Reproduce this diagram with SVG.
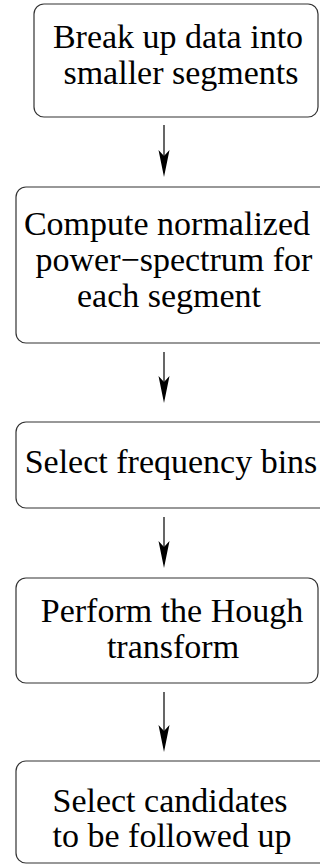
<svg xmlns="http://www.w3.org/2000/svg" width="320" height="865" viewBox="0 0 320 865">
<style>
.box{fill:#fff;stroke:#333;stroke-width:1.2}
.t{font-family:"Liberation Serif","Times New Roman",serif;font-size:34px;fill:#000;text-anchor:middle}
.ln{stroke:#000;stroke-width:1.2;fill:none}
.hd{fill:#000;stroke:none}
</style>
<defs>
<path id="head" d="M0,0 L-5.5,-27 L0,-21 L5.5,-27 Z"/>
</defs>
<rect width="320" height="865" fill="#fff"/>
<g id="n1">
<rect class="box" x="34" y="4" width="284" height="113" rx="10"/>
<text class="t" x="178" y="48">Break up data into</text>
<text class="t" x="181" y="84">smaller segments</text>
</g>
<g id="n2">
<rect class="box" x="16" y="187" width="330" height="156" rx="10"/>
<text class="t" x="167" y="235" font-size="35">Compute normalized</text>
<text class="t" x="174" y="271" font-size="35">power−spectrum for</text>
<text class="t" x="169" y="307" font-size="35">each segment</text>
</g>
<g id="n3">
<rect class="box" x="16" y="422" width="330" height="86" rx="10"/>
<text class="t" x="171" y="473">Select frequency bins</text>
</g>
<g id="n4">
<rect class="box" x="16" y="578" width="302" height="105" rx="10"/>
<text class="t" x="172" y="622">Perform the Hough</text>
<text class="t" x="173" y="658">transform</text>
</g>
<g id="n5">
<rect class="box" x="16" y="761" width="330" height="102" rx="10"/>
<text class="t" x="170" y="812">Select candidates</text>
<text class="t" x="172" y="847">to be followed up</text>
</g>
<g id="connectors">
<line class="ln" x1="164" y1="125" x2="164" y2="160"/>
<use href="#head" class="hd" x="164" y="177"/>
<line class="ln" x1="164" y1="352" x2="164" y2="386"/>
<use href="#head" class="hd" x="164" y="403"/>
<line class="ln" x1="164" y1="517" x2="164" y2="551"/>
<use href="#head" class="hd" x="164" y="568"/>
<line class="ln" x1="164" y1="692" x2="164" y2="735"/>
<use href="#head" class="hd" x="164" y="752"/>
</g>
</svg>
